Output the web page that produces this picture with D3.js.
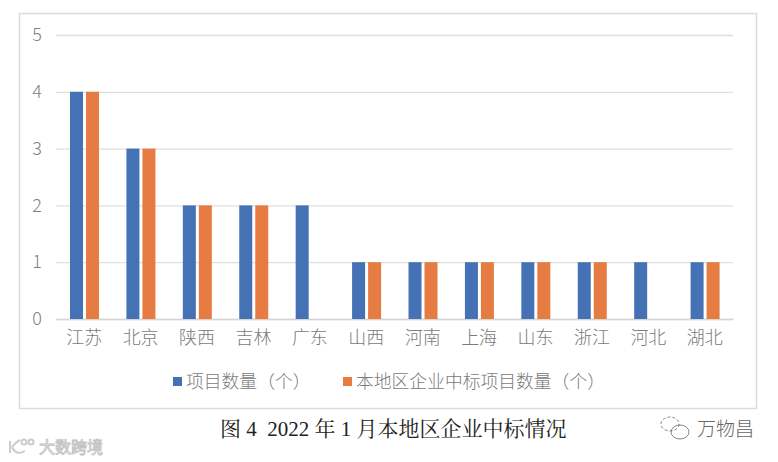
<!DOCTYPE html>
<html><head><meta charset="utf-8">
<script src="https://cdn.jsdelivr.net/npm/d3@7/dist/d3.min.js"></script>
<style>html,body{margin:0;padding:0;background:#fff}svg{display:block}</style>
</head><body><svg id="c" width="778" height="462"></svg>
<script>
const categories = ["江苏","北京","陕西","吉林","广东","山西","河南","上海","山东","浙江","河北","湖北"];
const projectCount = [4,3,2,2,2,1,1,1,1,1,1,1];
const localWinCount = [4,3,2,2,0,1,1,1,1,1,0,1];
const seriesNames = ["项目数量（个）","本地区企业中标项目数量（个）"];
const seriesColors = ["#4472b4","#e67c41"];
const yTicks = [0,1,2,3,4,5];
const caption = "图 4  2022 年 1 月本地区企业中标情况";
const mark1 = "万物昌";
const mark2 = "大数跨境";

const sans = "'Noto Sans CJK SC','Noto Sans',sans-serif";
const svg = d3.select("#c");
const x = d3.scaleBand().domain(categories).range([56,733]);
const y = d3.scaleLinear().domain([0,5]).range([319,35]);
const inner = d3.scaleBand().domain([0,1]).range([x.bandwidth()/2-14.2,x.bandwidth()/2+14.8]).paddingInner(0.1875);

svg.append("rect").attr("x",19.5).attr("y",13.5).attr("width",737).attr("height",395)
  .attr("fill","#fff").attr("stroke","#dcdcdc").attr("stroke-width",1.5);

const gy = svg.append("g").attr("transform","translate(56,0)")
  .call(d3.axisLeft(y).tickValues(yTicks).tickSize(-677).tickPadding(14).tickFormat(d3.format("d")));
gy.select(".domain").remove();
gy.selectAll("line").attr("stroke","#dfdfdf").attr("stroke-width",1.3);
gy.selectAll("text").attr("fill","#808080").style("font-family",sans).style("font-size","18px").style("font-weight","300");

const gx = svg.append("g").attr("transform","translate(0,319)")
  .call(d3.axisBottom(x).tickSize(0).tickPadding(12));
gx.select(".domain").attr("stroke","#d5d5d5").attr("stroke-width",1.3);
gx.selectAll("text").attr("fill","#7a7a7a").style("font-family",sans).style("font-size","18px").style("font-weight","300");

[projectCount,localWinCount].forEach((vals,s)=>{
  svg.append("g").selectAll("rect").data(vals).join("rect")
    .attr("x",(d,i)=>x(categories[i])+inner(s))
    .attr("width",inner.bandwidth())
    .attr("y",d=>y(d))
    .attr("height",d=>y(0)-y(d))
    .attr("fill",seriesColors[s]);
});

const legendX = [173,343];
seriesNames.forEach((n,i)=>{
  svg.append("rect").attr("x",legendX[i]).attr("y",377).attr("width",9).attr("height",9).attr("fill",seriesColors[i]);
  svg.append("text").attr("x",legendX[i]+13).attr("y",387.5).text(n)
    .attr("fill","#7a7a7a").style("font-family",sans).style("font-size","17.8px").style("font-weight","300");
});

svg.append("text").attr("x",220).attr("y",436).text(caption).attr("xml:space","preserve")
  .style("white-space","pre").attr("fill","#222")
  .style("font-family","'Liberation Serif','Noto Serif CJK SC','Noto Sans CJK SC',serif").style("font-size","21px");

svg.append("text").attr("x",697).attr("y",436).text(mark1).attr("fill","#666")
  .style("font-family",sans).style("font-size","19px").style("font-weight","300");
svg.append("text").attr("x",39).attr("y",453).text(mark2).attr("fill","#fff")
  .attr("stroke","#c4c4c4").attr("stroke-width",0.9)
  .style("font-family",sans).style("font-size","16px");

// small watermark glyphs
const ic = svg.append("g").attr("fill","none").attr("stroke","#666").attr("stroke-width",0.8);
ic.append("ellipse").attr("cx",670).attr("cy",424).attr("rx",9).attr("ry",7).attr("stroke-dasharray","3 2");
ic.append("ellipse").attr("cx",680).attr("cy",432).attr("rx",9).attr("ry",7);
const ic2 = svg.append("g").attr("fill","none").attr("stroke","#ccc").attr("stroke-width",2);
ic2.append("path").attr("d","M10 441 L10 453 M12 447 Q16 442 20 440 M12 447 Q16 456 25 451");
ic2.append("circle").attr("cx",24).attr("cy",442).attr("r",2.5);
ic2.append("circle").attr("cx",31).attr("cy",442).attr("r",2.5);
</script></body></html>
